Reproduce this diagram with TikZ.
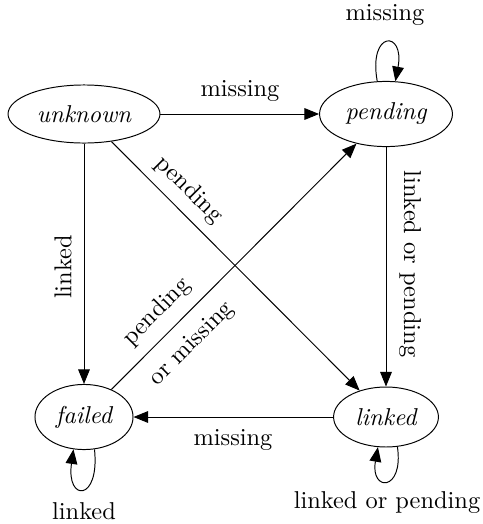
\documentclass[tikz,border=0pt]{standalone}
\usetikzlibrary{shapes.geometric,arrows.meta}
\begin{document}
\begin{tikzpicture}[x=0.41pt,y=-0.41pt,
  state/.style={draw,ellipse,inner sep=0pt,font=\itshape},
  arr/.style={-{Triangle[length=6pt,width=4.8pt]}},
  lbl/.style={inner sep=0pt}]
\useasboundingbox (0,0) rectangle (483,524);
\node[state,minimum width=62.3pt,minimum height=23.8pt] (unknown) at (84,114) {unknown};
\node[state,minimum width=54.5pt,minimum height=26.7pt] (pending) at (386,114) {pending};
\node[state,minimum width=40.2pt,minimum height=26.7pt] (failed) at (84,417) {failed};
\node[state,minimum width=43pt,minimum height=24.6pt] (linked) at (386,417) {linked};
\draw[arr] (unknown) -- (pending);
\draw[arr] (unknown) -- (failed);
\draw[arr] (unknown) -- (linked);
\draw[arr] (failed) -- (pending);
\draw[arr] (pending) -- (linked);
\draw[arr] (linked) -- (failed);
\draw[arr] (pending.105.6) .. controls (368,30) and (405,30) .. (pending.74.4);
\draw[arr] (failed.-72) .. controls (100,502) and (66,502) .. (failed.-108);
\draw[arr] (linked.-69) .. controls (404,492) and (370,492) .. (linked.-105);
\node[lbl] (l1) at (240,91) {missing};
\node[lbl,rotate=90] (l2) at (63,267) {linked};
\node[lbl,rotate=-45] (l3) at (189,190) {pending};
\node[lbl,rotate=45] (l4) at (157,312) {pending};
\node[lbl,rotate=45] (l5) at (192,344) {or missing};
\node[lbl,rotate=-90] (l6) at (410,264) {linked or pending};
\node[lbl] (l7) at (233,440) {missing};
\node[lbl] (l8) at (385,15) {missing};
\node[lbl] (l9) at (84,511) {linked};
\node[lbl] (l10) at (387,503) {linked or pending};
\end{tikzpicture}
\end{document}
